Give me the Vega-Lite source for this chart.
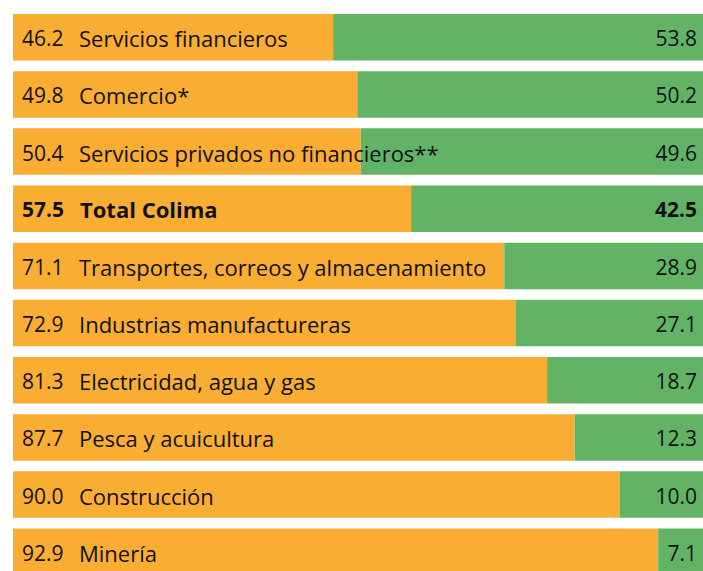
{
  "$schema": "https://vega.github.io/schema/vega-lite/v6.json",
  "autosize": {"type": "none"},
  "padding": {"left": 13, "top": 14, "right": 0, "bottom": 0},
  "width": 690,
  "height": 561,
  "background": "white",
  "config": {"view": {"stroke": null}, "text": {"font": "Open Sans", "fontSize": 21, "color": "#111111"}},
  "data": {"values": [
    {"name": "Servicios financieros", "naranja": 46.4, "verde": 53.6, "left": "46.2", "right": "53.8", "bold": false},
    {"name": "Comercio*", "naranja": 49.9, "verde": 50.1, "left": "49.8", "right": "50.2", "bold": false},
    {"name": "Servicios privados no financieros**", "naranja": 50.4, "verde": 49.6, "left": "50.4", "right": "49.6", "bold": false},
    {"name": "Total Colima", "naranja": 57.7, "verde": 42.3, "left": "57.5", "right": "42.5", "bold": true},
    {"name": "Transportes, correos y almacenamiento", "naranja": 71.2, "verde": 28.8, "left": "71.1", "right": "28.9", "bold": false},
    {"name": "Industrias manufactureras", "naranja": 72.9, "verde": 27.1, "left": "72.9", "right": "27.1", "bold": false},
    {"name": "Electricidad, agua y gas", "naranja": 77.4, "verde": 22.6, "left": "81.3", "right": "18.7", "bold": false},
    {"name": "Pesca y acuicultura", "naranja": 81.4, "verde": 18.6, "left": "87.7", "right": "12.3", "bold": false},
    {"name": "Construcción", "naranja": 87.9, "verde": 12.1, "left": "90.0", "right": "10.0", "bold": false},
    {"name": "Minería", "naranja": 93.5, "verde": 6.5, "left": "92.9", "right": "7.1", "bold": false}
  ]},
  "encoding": {
    "y": {"field": "name", "type": "nominal", "sort": null, "axis": null,
          "scale": {"paddingInner": 0.186, "paddingOuter": 0}}
  },
  "layer": [
    {"transform": [{"fold": ["naranja", "verde"], "as": ["serie", "valor"]}],
     "mark": {"type": "bar"},
     "encoding": {
       "x": {"field": "valor", "type": "quantitative", "stack": "zero", "scale": {"domain": [0, 100], "nice": false}, "axis": null},
       "color": {"field": "serie", "type": "nominal", "scale": {"domain": ["naranja", "verde"], "range": ["#F9AE33", "#63B367"]}, "legend": null},
       "order": {"field": "serie", "sort": "ascending"}
     }},
    {"transform": [{"filter": "!datum.bold"}],
     "layer": [
       {"mark": {"type": "text", "align": "left", "baseline": "middle", "dx": 9, "dy": 3},
        "encoding": {"x": {"value": 0}, "text": {"field": "left"}}},
       {"mark": {"type": "text", "align": "left", "baseline": "middle", "dx": 66, "dy": 3, "fontSize": 22},
        "encoding": {"x": {"value": 0}, "text": {"field": "name"}}},
       {"mark": {"type": "text", "align": "right", "baseline": "middle", "dx": -6, "dy": 3},
        "encoding": {"x": {"value": "width"}, "text": {"field": "right"}}}
     ]},
    {"transform": [{"filter": "datum.bold"}],
     "layer": [
       {"mark": {"type": "text", "align": "left", "baseline": "middle", "dx": 9, "dy": 2, "fontWeight": "bold"},
        "encoding": {"x": {"value": 0}, "text": {"field": "left"}}},
       {"mark": {"type": "text", "align": "left", "baseline": "middle", "dx": 67, "dy": 2, "fontSize": 22, "fontWeight": "bold"},
        "encoding": {"x": {"value": 0}, "text": {"field": "name"}}},
       {"mark": {"type": "text", "align": "right", "baseline": "middle", "dx": -6, "dy": 2, "fontWeight": "bold"},
        "encoding": {"x": {"value": "width"}, "text": {"field": "right"}}}
     ]}
  ]
}
